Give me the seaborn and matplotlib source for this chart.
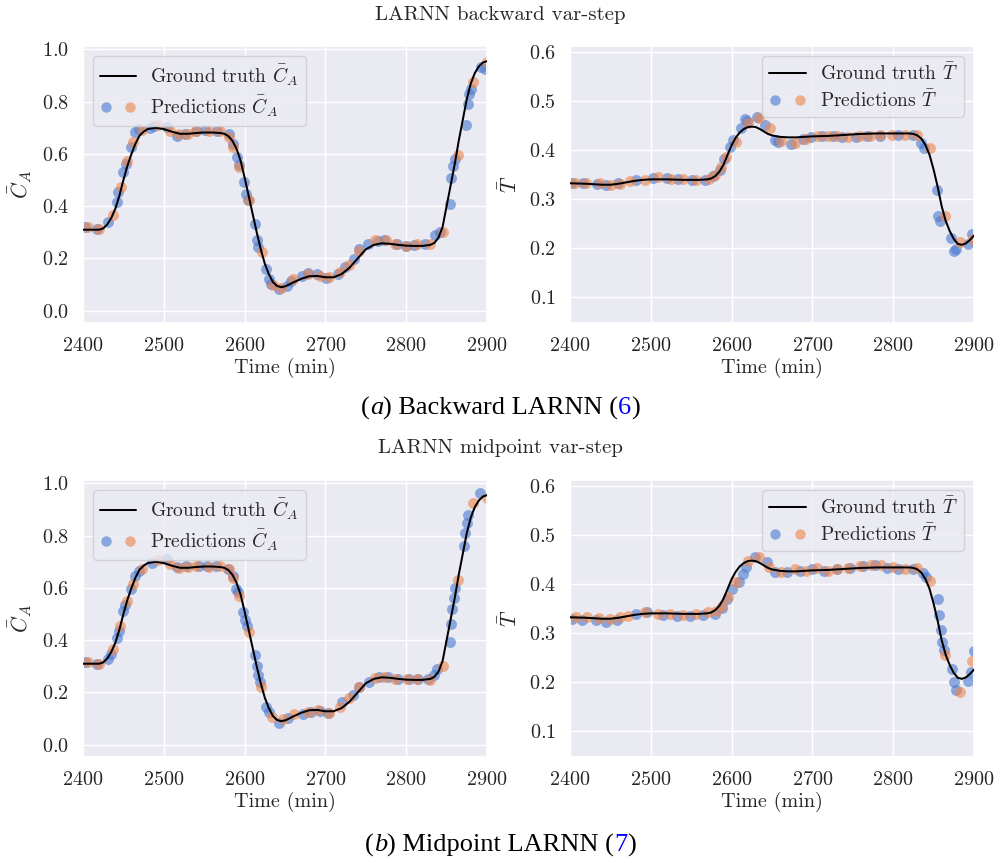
import matplotlib
matplotlib.use("Agg")
import matplotlib.pyplot as plt
import seaborn as sns
from matplotlib.lines import Line2D
from matplotlib.legend_handler import HandlerTuple

# ---------------- data ----------------
# Ground-truth concentration C_A
t_gt_ca = [2400, 2410, 2420, 2425, 2430, 2435, 2440, 2445, 2450, 2455, 2460, 2465, 2470, 2475,
           2480, 2490, 2500, 2510, 2520, 2530, 2540, 2550, 2560, 2570, 2575, 2580, 2585, 2590,
           2595, 2600, 2605, 2610, 2615, 2620, 2625, 2630, 2635, 2640, 2645, 2650, 2655, 2660,
           2670, 2680, 2690, 2700, 2710, 2720, 2730, 2740, 2750, 2760, 2770, 2780, 2790, 2800,
           2810, 2820, 2830, 2835, 2840, 2845, 2850, 2855, 2860, 2865, 2870, 2875, 2880, 2885,
           2890, 2895, 2900]
ca_gt = [0.31, 0.31, 0.31, 0.315, 0.33, 0.355, 0.39, 0.44, 0.50, 0.555, 0.60, 0.64, 0.67, 0.685,
         0.695, 0.70, 0.695, 0.685, 0.677, 0.677, 0.68, 0.682, 0.682, 0.68, 0.677, 0.668, 0.65, 0.62,
         0.575, 0.51, 0.44, 0.37, 0.30, 0.235, 0.18, 0.14, 0.11, 0.095, 0.09, 0.093, 0.10, 0.108,
         0.122, 0.132, 0.133, 0.128, 0.128, 0.14, 0.165, 0.20, 0.235, 0.252, 0.258, 0.256, 0.252, 0.249,
         0.248, 0.248, 0.252, 0.26, 0.28, 0.32, 0.40, 0.48, 0.56, 0.65, 0.73, 0.81, 0.87, 0.91,
         0.935, 0.95, 0.955]

# Ground-truth temperature T
t_gt_T = [2400, 2420, 2440, 2450, 2460, 2470, 2480, 2490, 2500, 2520, 2540, 2560, 2570, 2575,
          2580, 2585, 2590, 2595, 2600, 2605, 2610, 2615, 2620, 2625, 2630, 2635, 2640, 2645,
          2650, 2660, 2670, 2680, 2690, 2700, 2720, 2740, 2760, 2780, 2800, 2820, 2825, 2830,
          2835, 2840, 2845, 2850, 2855, 2860, 2865, 2870, 2875, 2880, 2885, 2890, 2895, 2900]
T_gt = [0.332, 0.331, 0.329, 0.329, 0.331, 0.334, 0.337, 0.339, 0.34, 0.34, 0.339, 0.339, 0.34, 0.342,
        0.347, 0.356, 0.37, 0.39, 0.41, 0.425, 0.436, 0.443, 0.447, 0.448, 0.447, 0.443, 0.438, 0.433,
        0.43, 0.427, 0.426, 0.426, 0.427, 0.428, 0.429, 0.431, 0.433, 0.434, 0.434, 0.434, 0.433, 0.43,
        0.423, 0.41, 0.39, 0.36, 0.325, 0.285, 0.255, 0.234, 0.218, 0.208, 0.206, 0.209, 0.216, 0.225]

# Backward LARNN predictions, C_A
bwd_ca_b_t = [2402, 2417, 2431, 2442, 2443, 2450, 2453, 2460, 2464, 2469, 2483, 2488, 2504, 2516,
              2526, 2540, 2551, 2566, 2581, 2586, 2590, 2593, 2599, 2602, 2604, 2613, 2615, 2617,
              2627, 2630, 2633, 2642, 2652, 2658, 2671, 2679, 2689, 2701, 2716, 2724, 2735, 2742,
              2753, 2765, 2773, 2788, 2800, 2810, 2823, 2836, 2842, 2854, 2856, 2858, 2861, 2874,
              2876, 2878, 2880, 2893, 2897]
bwd_ca_b_v = [0.319, 0.313, 0.338, 0.415, 0.454, 0.53, 0.562, 0.625, 0.683, 0.696, 0.70, 0.706, 0.703, 0.67,
              0.677, 0.686, 0.691, 0.686, 0.676, 0.638, 0.588, 0.559, 0.492, 0.447, 0.422, 0.332, 0.271, 0.243,
              0.16, 0.122, 0.103, 0.083, 0.096, 0.115, 0.134, 0.143, 0.140, 0.127, 0.14, 0.166, 0.198, 0.236,
              0.254, 0.267, 0.269, 0.257, 0.248, 0.25, 0.254, 0.288, 0.30, 0.41, 0.508, 0.553, 0.58, 0.71,
              0.792, 0.83, 0.85, 0.932, 0.926]
bwd_ca_o_t = [2406, 2420, 2437, 2447, 2455, 2462, 2473, 2493, 2508, 2519, 2530, 2540, 2556, 2569,
              2581, 2586, 2593, 2606, 2621, 2635, 2645, 2660, 2679, 2693, 2705, 2718, 2729, 2742,
              2761, 2775, 2786, 2800, 2813, 2829, 2846, 2864, 2883, 2900]
bwd_ca_o_v = [0.319, 0.313, 0.366, 0.472, 0.574, 0.644, 0.692, 0.709, 0.686, 0.676, 0.676, 0.686, 0.686, 0.686,
              0.663, 0.625, 0.549, 0.422, 0.223, 0.10, 0.088, 0.122, 0.142, 0.134, 0.128, 0.147, 0.176, 0.230,
              0.271, 0.27, 0.257, 0.248, 0.254, 0.254, 0.302, 0.597, 0.875, 0.95]

# Backward LARNN predictions, T
bwd_T_b_t = [2402, 2416, 2433, 2445, 2460, 2482, 2503, 2520, 2534, 2551, 2567, 2577, 2586, 2591,
             2598, 2602, 2612, 2616, 2619, 2631, 2641, 2654, 2658, 2674, 2688, 2698, 2712, 2725,
             2737, 2754, 2768, 2784, 2806, 2825, 2835, 2838, 2854, 2856, 2858, 2872, 2875, 2878,
             2893, 2898]
bwd_T_b_v = [0.332, 0.333, 0.331, 0.328, 0.332, 0.339, 0.343, 0.343, 0.34, 0.339, 0.339, 0.346, 0.36, 0.381,
             0.407, 0.421, 0.445, 0.463, 0.46, 0.468, 0.451, 0.421, 0.416, 0.413, 0.423, 0.426, 0.428, 0.429,
             0.426, 0.426, 0.428, 0.429, 0.431, 0.43, 0.415, 0.404, 0.319, 0.265, 0.255, 0.221, 0.194, 0.197,
             0.208, 0.228]
bwd_T_o_t = [2406, 2420, 2437, 2451, 2462, 2474, 2493, 2509, 2525, 2540, 2556, 2572, 2579, 2587,
             2593, 2606, 2620, 2634, 2647, 2661, 2678, 2692, 2707, 2719, 2730, 2744, 2759, 2771,
             2784, 2798, 2815, 2829, 2846, 2864, 2883, 2899]
bwd_T_o_v = [0.332, 0.332, 0.332, 0.329, 0.331, 0.336, 0.339, 0.344, 0.34, 0.34, 0.339, 0.34, 0.349, 0.366,
             0.386, 0.417, 0.456, 0.465, 0.445, 0.418, 0.415, 0.422, 0.428, 0.429, 0.428, 0.426, 0.428, 0.429,
             0.431, 0.431, 0.431, 0.431, 0.404, 0.265, 0.212, 0.217]

# Midpoint LARNN predictions, C_A
mid_ca_b_t = [2402, 2417, 2431, 2435, 2442, 2444, 2450, 2452, 2459, 2464, 2469, 2485, 2504, 2516,
              2528, 2543, 2553, 2565, 2579, 2586, 2589, 2592, 2598, 2600, 2603, 2613, 2615, 2617,
              2619, 2627, 2630, 2642, 2654, 2672, 2682, 2693, 2703, 2721, 2734, 2742, 2754, 2766,
              2778, 2790, 2803, 2815, 2827, 2834, 2838, 2854, 2855, 2857, 2859, 2861, 2871, 2873,
              2875, 2876, 2891]
mid_ca_b_v = [0.317, 0.310, 0.329, 0.348, 0.407, 0.436, 0.512, 0.534, 0.595, 0.645, 0.664, 0.696, 0.709, 0.681,
              0.684, 0.684, 0.684, 0.684, 0.671, 0.645, 0.597, 0.584, 0.508, 0.478, 0.453, 0.342, 0.301, 0.268,
              0.240, 0.145, 0.126, 0.082, 0.101, 0.116, 0.126, 0.128, 0.123, 0.164, 0.189, 0.221, 0.240, 0.259,
              0.259, 0.250, 0.250, 0.250, 0.250, 0.268, 0.291, 0.392, 0.462, 0.519, 0.563, 0.601, 0.760, 0.810,
              0.850, 0.879, 0.962]
mid_ca_o_t = [2406, 2420, 2437, 2446, 2454, 2462, 2473, 2493, 2508, 2519, 2530, 2540, 2556, 2570,
              2581, 2586, 2593, 2605, 2620, 2634, 2647, 2661, 2678, 2691, 2705, 2718, 2729, 2742,
              2761, 2773, 2786, 2801, 2813, 2829, 2846, 2864, 2883, 2900]
mid_ca_o_v = [0.317, 0.310, 0.367, 0.455, 0.550, 0.614, 0.673, 0.706, 0.690, 0.677, 0.681, 0.684, 0.681, 0.684,
              0.674, 0.639, 0.569, 0.433, 0.221, 0.107, 0.098, 0.116, 0.126, 0.133, 0.123, 0.145, 0.179, 0.221,
              0.255, 0.259, 0.253, 0.250, 0.250, 0.246, 0.303, 0.630, 0.926, 0.943]

# Midpoint LARNN predictions, T
mid_T_b_t = [2403, 2415, 2432, 2444, 2458, 2482, 2495, 2515, 2532, 2548, 2565, 2580, 2588, 2594,
             2600, 2609, 2614, 2618, 2629, 2644, 2654, 2669, 2685, 2699, 2714, 2730, 2747, 2763,
             2778, 2792, 2806, 2825, 2837, 2841, 2855, 2857, 2859, 2861, 2863, 2873, 2875, 2878,
             2893, 2896, 2900]
mid_T_b_v = [0.329, 0.327, 0.327, 0.323, 0.327, 0.339, 0.342, 0.337, 0.335, 0.335, 0.337, 0.339, 0.352, 0.37,
             0.39, 0.404, 0.421, 0.434, 0.455, 0.445, 0.424, 0.425, 0.427, 0.430, 0.427, 0.431, 0.432, 0.436,
             0.438, 0.432, 0.431, 0.430, 0.423, 0.414, 0.370, 0.337, 0.305, 0.281, 0.264, 0.226, 0.200, 0.184,
             0.202, 0.219, 0.262]
mid_T_o_t = [2407, 2421, 2436, 2450, 2462, 2472, 2493, 2509, 2524, 2540, 2556, 2571, 2581, 2588,
             2595, 2606, 2620, 2634, 2646, 2661, 2678, 2692, 2706, 2719, 2730, 2744, 2759, 2773,
             2785, 2800, 2815, 2829, 2846, 2864, 2883, 2898]
mid_T_o_v = [0.332, 0.332, 0.330, 0.329, 0.332, 0.335, 0.342, 0.339, 0.339, 0.337, 0.339, 0.342, 0.344, 0.356,
             0.373, 0.404, 0.448, 0.455, 0.434, 0.424, 0.430, 0.427, 0.432, 0.427, 0.430, 0.432, 0.436, 0.438,
             0.438, 0.434, 0.431, 0.432, 0.407, 0.254, 0.179, 0.243]

x_ticks = [2400, 2500, 2600, 2700, 2800, 2900]
ca_ticks = [0.0, 0.2, 0.4, 0.6, 0.8, 1.0]
T_ticks = [0.1, 0.2, 0.3, 0.4, 0.5, 0.6]

# ---------------- style ----------------
sns.set_theme(style="darkgrid")
plt.rcParams.update({
    "font.family": ["cmr10", "DejaVu Serif"],
    "mathtext.fontset": "cm",
    "axes.formatter.use_mathtext": True,
    "axes.unicode_minus": False,
})

BLUE = sns.color_palette("muted")[0]
ORANGE = sns.color_palette("muted")[1]
ALPHA = 0.6
FS = 14.5
LEG_FS = 14
LW = 1.45

W, H = 1001, 863
fig = plt.figure(figsize=(W / 100, H / 100), dpi=100)


def axes_at(left, top, right, bottom):
    return fig.add_axes([left / W, 1 - bottom / H, (right - left) / W, (bottom - top) / H])


def panel(ax, t_gt, v_gt, tb, vb, to, vo, sym, loc, ylim, yticks):
    sns.scatterplot(x=tb, y=vb, ax=ax, color=BLUE, alpha=ALPHA, s=62, linewidth=0, zorder=2)
    sns.scatterplot(x=to, y=vo, ax=ax, color=ORANGE, alpha=ALPHA, s=62, linewidth=0, zorder=2)
    sns.lineplot(x=t_gt, y=v_gt, ax=ax, color="black", linewidth=LW, zorder=3)
    ax.set_xlim(2400, 2900)
    ax.set_ylim(*ylim)
    ax.set_xticks(x_ticks)
    ax.set_yticks(yticks)
    ax.tick_params(labelsize=FS, pad=4)
    ax.set_xlabel("Time (min)", fontsize=FS, labelpad=2)
    ax.set_ylabel(sym, fontsize=FS + 1, labelpad=6)
    gt_handle = Line2D([], [], color="black", linewidth=LW)
    pb = Line2D([], [], linestyle="", marker="o", markersize=7.5, color=BLUE, alpha=ALPHA, markeredgewidth=0)
    po = Line2D([], [], linestyle="", marker="o", markersize=7.5, color=ORANGE, alpha=ALPHA, markeredgewidth=0)
    ax.legend([gt_handle, (pb, po)],
              ["Ground truth " + sym, "Predictions " + sym],
              handler_map={tuple: HandlerTuple(ndivide=None, pad=0.6)},
              loc=loc, fontsize=LEG_FS, handlelength=1.9, borderpad=0.35,
              labelspacing=0.3, handletextpad=0.7, borderaxespad=0.5)


CA_SYM = r"$\bar{C}_A$"
T_SYM = r"$\bar{T}$"
CA_LIM = (-0.047, 1.013)
T_LIM = (0.046, 0.613)

ax1 = axes_at(83, 46, 487, 323)
ax2 = axes_at(570, 46, 974, 323)
ax3 = axes_at(83, 480, 487, 757)
ax4 = axes_at(570, 480, 974, 757)

panel(ax1, t_gt_ca, ca_gt, bwd_ca_b_t, bwd_ca_b_v, bwd_ca_o_t, bwd_ca_o_v, CA_SYM, "upper left", CA_LIM, ca_ticks)
panel(ax2, t_gt_T, T_gt, bwd_T_b_t, bwd_T_b_v, bwd_T_o_t, bwd_T_o_v, T_SYM, "upper right", T_LIM, T_ticks)
panel(ax3, t_gt_ca, ca_gt, mid_ca_b_t, mid_ca_b_v, mid_ca_o_t, mid_ca_o_v, CA_SYM, "upper left", CA_LIM, ca_ticks)
panel(ax4, t_gt_T, T_gt, mid_T_b_t, mid_T_b_v, mid_T_o_t, mid_T_o_v, T_SYM, "upper right", T_LIM, T_ticks)

# Figure titles
fig.text(0.5, 1 - 15 / H, "LARNN backward var-step", ha="center", va="center", fontsize=15, color=".15")
fig.text(0.5, 1 - 448 / H, "LARNN midpoint var-step", ha="center", va="center", fontsize=15, color=".15")

# Sub-captions built from styled pieces, centred as a whole
renderer = fig.canvas.get_renderer()


def caption(y_px, pieces):
    texts = []
    for s, style, color in pieces:
        t = fig.text(0, 1 - y_px / H, s, ha="left", va="center", fontsize=19,
                     family="Liberation Serif", style=style, color=color)
        texts.append(t)
    widths = [t.get_window_extent(renderer).width for t in texts]
    x = W / 2 - sum(widths) / 2
    for t, w in zip(texts, widths):
        t.set_x(x / W)
        x += w


caption(408, [("(", "normal", "black"), ("a", "italic", "black"),
              (") Backward LARNN (", "normal", "black"), ("6", "normal", "#0000ff"),
              (")", "normal", "black")])
caption(845, [("(", "normal", "black"), ("b", "italic", "black"),
              (") Midpoint LARNN (", "normal", "black"), ("7", "normal", "#0000ff"),
              (")", "normal", "black")])

fig.savefig("out.png", dpi=100, facecolor="white")
